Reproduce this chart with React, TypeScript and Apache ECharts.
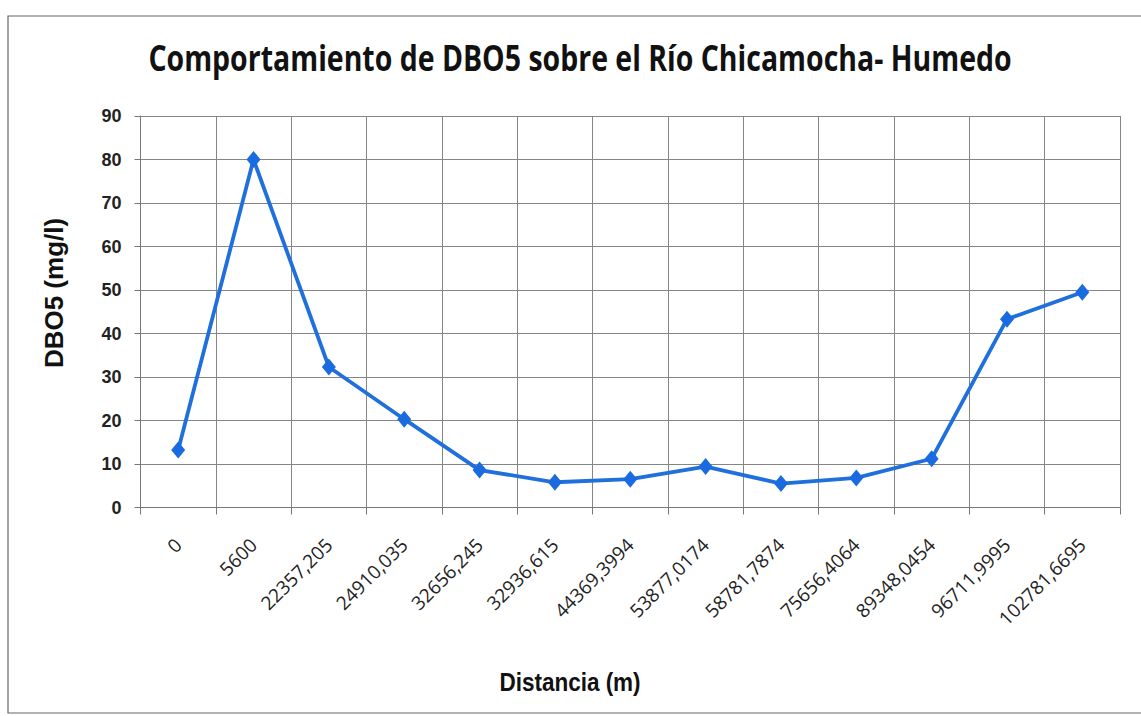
import React, { useEffect, useRef } from "react";
import * as echarts from "echarts";

// Distance along the river (m), as printed on the category axis
const distances = [
  "0",
  "5600",
  "22357,205",
  "24910,035",
  "32656,245",
  "32936,615",
  "44369,3994",
  "53877,0174",
  "58781,7874",
  "75656,4064",
  "89348,0454",
  "96711,9995",
  "102781,6695",
];

// DBO5 concentration (mg/l) at each station
const dbo5 = [13.2, 80, 32.3, 20.3, 8.6, 5.8, 6.5, 9.4, 5.5, 6.8, 11.2, 43.3, 49.5];

const yTicks = { min: 0, max: 90, interval: 10 };

const TITLE = "Comportamiento de DBO5 sobre el Río Chicamocha- Humedo";
const TITLE_FONT = "bold 36px 'Open Sans'";
const TITLE_WIDTH = 864;

// Horizontal squeeze that gives the bold title a condensed look
function titleScale(): number {
  const c = document.createElement("canvas").getContext("2d");
  if (!c) return 0.75;
  c.font = TITLE_FONT;
  const w = c.measureText(TITLE).width;
  return w > 0 ? TITLE_WIDTH / w : 0.75;
}

export default function App() {
  const ref = useRef<HTMLDivElement>(null);

  useEffect(() => {
    if (!ref.current) return;
    const chart = echarts.init(ref.current, undefined, { renderer: "svg" });
    const sx = titleScale();
    chart.setOption({
      animation: false,
      backgroundColor: "#ffffff",
      graphic: [
        {
          type: "rect",
          shape: { x: 8, y: 16, width: 1140, height: 697 },
          style: { fill: "none", stroke: "#666", lineWidth: 1.2 },
          silent: true,
          z: -1,
        },
        {
          type: "text",
          x: 580,
          y: 57,
          scaleX: sx,
          style: {
            text: TITLE,
            font: TITLE_FONT,
            fill: "#111",
            textAlign: "center",
            textVerticalAlign: "middle",
          },
        },
        {
          type: "text",
          x: 54,
          y: 293,
          rotation: Math.PI / 2,
          style: {
            text: "DBO5 (mg/l)",
            font: "bold 26px 'Liberation Sans', Arial, sans-serif",
            fill: "#111",
            textAlign: "center",
            textVerticalAlign: "middle",
          },
        },
        {
          type: "text",
          x: 570,
          y: 682,
          scaleX: 0.9,
          style: {
            text: "Distancia (m)",
            font: "bold 25px 'Liberation Sans', Arial, sans-serif",
            fill: "#111",
            textAlign: "center",
            textVerticalAlign: "middle",
          },
        },
      ],
      grid: { left: 140.5, right: 21, top: 116, bottom: 208.5, containLabel: false },
      xAxis: {
        type: "category",
        data: distances,
        boundaryGap: true,
        axisLine: { show: true, lineStyle: { color: "#777", width: 1 } },
        axisTick: { show: true, alignWithLabel: false, length: 7, lineStyle: { color: "#777" } },
        splitLine: { show: true, lineStyle: { color: "#858585", width: 1 } },
        axisLabel: {
          rotate: 45,
          margin: 34,
          interval: 0,
          fontFamily: "'Open Sans', sans-serif",
          fontSize: 19,
          color: "#222",
        },
      },
      yAxis: {
        type: "value",
        min: yTicks.min,
        max: yTicks.max,
        interval: yTicks.interval,
        axisLine: { show: true, lineStyle: { color: "#777", width: 1 } },
        axisTick: { show: true, length: 6, lineStyle: { color: "#777" } },
        splitLine: { show: true, lineStyle: { color: "#858585", width: 1 } },
        axisLabel: {
          margin: 19,
          fontFamily: "'Liberation Sans', Arial, sans-serif",
          fontWeight: "bold",
          fontSize: 18,
          color: "#222",
        },
      },
      series: [
        {
          type: "line",
          data: dbo5,
          symbol: "diamond",
          symbolSize: [14, 17],
          lineStyle: { color: "#1f6fdc", width: 3.8 },
          itemStyle: { color: "#1a6be0" },
        },
      ],
    });
    return () => chart.dispose();
  }, []);

  return (
    <div
      ref={ref}
      style={{ position: "absolute", left: 0, top: 0, width: 1141, height: 716 }}
    />
  );
}
